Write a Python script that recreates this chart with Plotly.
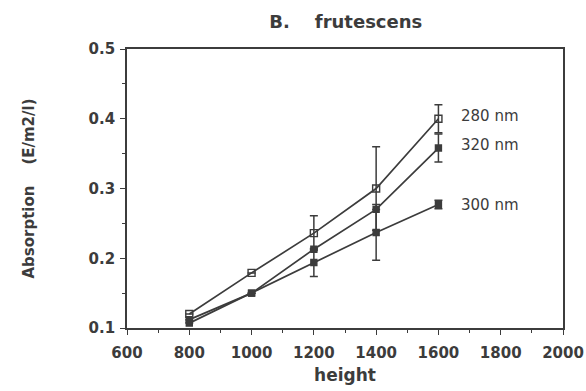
import plotly.graph_objects as go

heights = [800, 1000, 1200, 1400, 1600]
abs_280 = [0.12, 0.179, 0.236, 0.300, 0.400]
err_280 = [0.0, 0.0, 0.025, 0.06, 0.02]
abs_320 = [0.112, 0.150, 0.213, 0.270, 0.358]
err_320 = [0.0, 0.0, 0.0, 0.0, 0.02]
abs_300 = [0.107, 0.150, 0.194, 0.237, 0.277]
err_300 = [0.0, 0.0, 0.02, 0.04, 0.006]
labels = ["280 nm", "320 nm", "300 nm"]
label_y = [0.404, 0.362, 0.276]

col = "#3c3c3c"
fnt = "DejaVu Sans"

fig = go.Figure()
series = [
    (abs_280, err_280, "square-open", 7),
    (abs_320, err_320, "square-x", 6),
    (abs_300, err_300, "square", 6),
]
for vals, errs, sym, sz in series:
    fig.add_trace(go.Scatter(
        x=heights, y=vals, mode="lines+markers",
        line=dict(color=col, width=1.7),
        marker=dict(symbol=sym, size=sz, color=col, line=dict(color=col, width=1.4)),
        error_y=dict(type="data", array=errs, visible=True, color=col, thickness=1.5, width=4),
        showlegend=False,
    ))

for t, yv in zip(labels, label_y):
    fig.add_annotation(x=1666, y=yv, text=t, showarrow=False, xanchor="left",
                       font=dict(family=fnt, size=15, color=col))

axis_common = dict(
    showline=True, linecolor=col, linewidth=1.6, mirror=True,
    ticks="outside", ticklen=5, tickwidth=1.4, tickcolor=col,
    showgrid=False, zeroline=False, automargin=False,
    tickfont=dict(family=fnt, size=15, color=col, weight="bold"),
)

fig.update_layout(
    width=586, height=391,
    margin=dict(l=127, r=23, t=49, b=63),
    paper_bgcolor="white", plot_bgcolor="white",
    title=dict(text="B.    frutescens", x=0.59, xanchor="center", y=0.944, yanchor="middle",
               font=dict(family=fnt, size=18, color=col, weight="bold")),
    xaxis=dict(range=[600, 2000], dtick=200, tick0=600,
               ticklabelstandoff=5,
               minor=dict(dtick=100, ticks="outside", ticklen=3, tickcolor=col),
               title=dict(text="height", standoff=8,
                          font=dict(family=fnt, size=17, color=col, weight="bold")),
               **axis_common),
    yaxis=dict(range=[0.1, 0.5], dtick=0.1, tick0=0.1, tickformat=".1f",
               ticklabelstandoff=2,
               minor=dict(dtick=0.05, ticks="outside", ticklen=3, tickcolor=col),
               title=dict(text="Absorption    (E/m2/l)", standoff=50,
                          font=dict(family=fnt, size=15, color=col, weight="bold")),
               **axis_common),
)

fig.write_html("out.html")
